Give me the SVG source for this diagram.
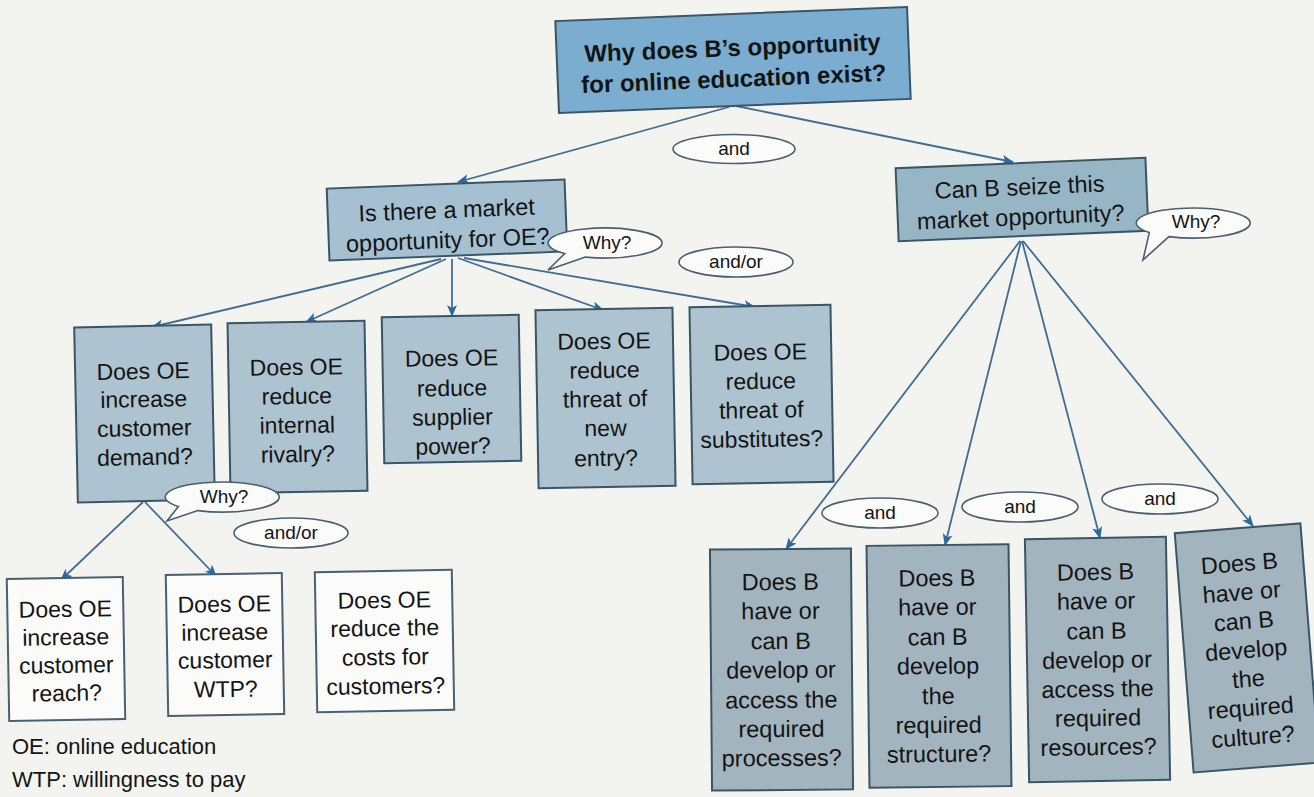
<svg xmlns="http://www.w3.org/2000/svg" width="1314" height="797" viewBox="0 0 1314 797">
  <defs>
    <marker id="arrow" viewBox="0 0 12 10" refX="11" refY="5" markerWidth="12" markerHeight="10" markerUnits="userSpaceOnUse" orient="auto">
      <path d="M0,0 L12,5 L0,10 L3,5 Z" fill="#2b69a3"/>
    </marker>
    <style>
      .bg { fill: #f3f3f0; }
      .box { stroke: #3a5566; stroke-width: 2; }
      .root { fill: #7aadcf; }
      .mid { fill: #a5c1d1; }
      .seize { fill: #97b6c5; }
      .row { fill: #adc3cf; }
      .cap { fill: #a2b5bf; }
      .plain { fill: #fbfbfa; stroke: #4a6070; stroke-width: 2; }
      .bubble { fill: #fbfbfa; stroke: #4a6070; stroke-width: 1.6; }
      .link { fill: none; stroke: #406d92; stroke-width: 1.8; marker-end: url(#arrow); }
      text { font-family: "Liberation Sans", Arial, sans-serif; fill: #141414; text-anchor: middle; }
      .t-root { font-size: 24px; font-weight: bold; }
      .t-mid { font-size: 23.5px; }
      .t-box { font-size: 23px; }
      .t-cap { font-size: 23.5px; }
      .t-tag { font-size: 19px; }
      .t-legend { font-size: 22px; text-anchor: start; }
    </style>
  </defs>

  <rect class="bg" x="0" y="0" width="1314" height="797"/>

  <!-- connectors -->
  <g id="connectors">
    <path class="link" d="M729,107 L458,182"/>
    <path class="link" d="M736,106 L1013,162"/>
    <path class="link" d="M441,259 L152,327"/>
    <path class="link" d="M446,259 L306,322"/>
    <path class="link" d="M452,259 L452,316"/>
    <path class="link" d="M458,258 L603,310"/>
    <path class="link" d="M464,258 L755,307"/>
    <path class="link" d="M1020,241 L786,549"/>
    <path class="link" d="M1021,241 L945,545"/>
    <path class="link" d="M1022,241 L1100,538"/>
    <path class="link" d="M1023,241 L1253,526"/>
    <path class="link" d="M143,502 L61,580"/>
    <path class="link" d="M145,502 L216,576"/>
  </g>

  <!-- root question -->
  <g id="root" transform="rotate(-2.3 733 60)">
    <rect class="box root" x="557" y="14" width="352" height="92"/>
    <text class="t-root" x="733" y="56">Why does B’s opportunity</text>
    <text class="t-root" x="733" y="87">for online education exist?</text>
  </g>

  <!-- market opportunity branch -->
  <g id="market" transform="rotate(-2.2 447 220)">
    <rect class="box mid" x="328" y="184" width="238" height="72"/>
    <text class="t-mid" x="447" y="218">Is there a market</text>
    <text class="t-mid" x="447" y="248">opportunity for OE?</text>
  </g>

  <g id="seize" transform="rotate(-2.4 1022 199)">
    <rect class="box seize" x="897" y="163" width="250" height="73"/>
    <text class="t-mid" x="1020" y="195">Can B seize this</text>
    <text class="t-mid" x="1020" y="225">market opportunity?</text>
  </g>

  <!-- five forces row -->
  <g id="demand" transform="rotate(-1.2 145 413)">
    <rect class="box row" x="76" y="326" width="137" height="175"/>
    <text class="t-box" x="144" y="379">Does OE</text>
    <text class="t-box" x="144" y="407">increase</text>
    <text class="t-box" x="144" y="436">customer</text>
    <text class="t-box" x="144" y="465">demand?</text>
  </g>

  <g id="rivalry" transform="rotate(-1 297 407)">
    <rect class="box row" x="229" y="322" width="137" height="170"/>
    <text class="t-box" x="297" y="375">Does OE</text>
    <text class="t-box" x="297" y="404">reduce</text>
    <text class="t-box" x="297" y="433">internal</text>
    <text class="t-box" x="297" y="462">rivalry?</text>
  </g>

  <g id="supplier" transform="rotate(-1 452 389)">
    <rect class="box row" x="383" y="316" width="137" height="146"/>
    <text class="t-box" x="452" y="366">Does OE</text>
    <text class="t-box" x="452" y="396">reduce</text>
    <text class="t-box" x="452" y="425">supplier</text>
    <text class="t-box" x="452" y="454">power?</text>
  </g>

  <g id="entry" transform="rotate(-1 605 398)">
    <rect class="box row" x="537" y="309" width="137" height="178"/>
    <text class="t-box" x="605" y="349">Does OE</text>
    <text class="t-box" x="605" y="378">reduce</text>
    <text class="t-box" x="605" y="407">threat of</text>
    <text class="t-box" x="605" y="436">new</text>
    <text class="t-box" x="605" y="466">entry?</text>
  </g>

  <g id="substitutes" transform="rotate(-1 761 394)">
    <rect class="box row" x="691" y="306" width="141" height="177"/>
    <text class="t-box" x="761" y="360">Does OE</text>
    <text class="t-box" x="761" y="389">reduce</text>
    <text class="t-box" x="761" y="418">threat of</text>
    <text class="t-box" x="761" y="447">substitutes?</text>
  </g>

  <!-- demand drivers -->
  <g id="reach" transform="rotate(-1 66 649)">
    <rect class="plain" x="8" y="578" width="116" height="142"/>
    <text class="t-box" x="66" y="617">Does OE</text>
    <text class="t-box" x="66" y="645">increase</text>
    <text class="t-box" x="66" y="673">customer</text>
    <text class="t-box" x="66" y="701">reach?</text>
  </g>

  <g id="wtp" transform="rotate(-1 225 645)">
    <rect class="plain" x="167" y="574" width="116" height="141"/>
    <text class="t-box" x="225" y="612">Does OE</text>
    <text class="t-box" x="225" y="640">increase</text>
    <text class="t-box" x="225" y="668">customer</text>
    <text class="t-box" x="225" y="697">WTP?</text>
  </g>

  <g id="costs" transform="rotate(-1 385 641)">
    <rect class="plain" x="316" y="571" width="137" height="140"/>
    <text class="t-box" x="385" y="608">Does OE</text>
    <text class="t-box" x="385" y="636">reduce the</text>
    <text class="t-box" x="385" y="665">costs for</text>
    <text class="t-box" x="385" y="694">customers?</text>
  </g>

  <!-- capability boxes -->
  <g id="processes" transform="rotate(-0.5 781 669)">
    <rect class="box cap" x="711" y="549" width="141" height="241"/>
    <text class="t-cap" x="781" y="590">Does B</text>
    <text class="t-cap" x="781" y="619">have or</text>
    <text class="t-cap" x="781" y="649">can B</text>
    <text class="t-cap" x="781" y="678">develop or</text>
    <text class="t-cap" x="781" y="708">access the</text>
    <text class="t-cap" x="781" y="737">required</text>
    <text class="t-cap" x="781" y="766">processes?</text>
  </g>

  <g id="structure" transform="rotate(-0.7 939 666)">
    <rect class="box cap" x="868" y="545" width="142" height="242"/>
    <text class="t-cap" x="938" y="586">Does B</text>
    <text class="t-cap" x="938" y="615">have or</text>
    <text class="t-cap" x="938" y="645">can B</text>
    <text class="t-cap" x="938" y="674">develop</text>
    <text class="t-cap" x="938" y="704">the</text>
    <text class="t-cap" x="938" y="733">required</text>
    <text class="t-cap" x="938" y="762">structure?</text>
  </g>

  <g id="resources" transform="rotate(-1 1097 659)">
    <rect class="box cap" x="1027" y="538" width="141" height="243"/>
    <text class="t-cap" x="1097" y="580">Does B</text>
    <text class="t-cap" x="1097" y="609">have or</text>
    <text class="t-cap" x="1097" y="639">can B</text>
    <text class="t-cap" x="1097" y="668">develop or</text>
    <text class="t-cap" x="1097" y="697">access the</text>
    <text class="t-cap" x="1097" y="726">required</text>
    <text class="t-cap" x="1097" y="755">resources?</text>
  </g>

  <g id="culture" transform="rotate(-4.5 1246 648)">
    <rect class="box cap" x="1184" y="528" width="126" height="240"/>
    <text class="t-cap" x="1246" y="571">Does B</text>
    <text class="t-cap" x="1246" y="600">have or</text>
    <text class="t-cap" x="1246" y="629">can B</text>
    <text class="t-cap" x="1246" y="658">develop</text>
    <text class="t-cap" x="1246" y="687">the</text>
    <text class="t-cap" x="1246" y="716">required</text>
    <text class="t-cap" x="1246" y="745">culture?</text>
  </g>

  <!-- connector labels, drawn over the boxes they touch -->
  <g id="labels">
    <ellipse class="bubble" cx="734" cy="149" rx="61" ry="14.5"/>
    <text class="t-tag" x="734" y="155">and</text>

    <path class="bubble" d="M585.5,257.1 L548,270 L564.7,253.6 A57,15 0 1 1 585.5,257.1 Z"/>
    <text class="t-tag" x="607" y="249">Why?</text>

    <ellipse class="bubble" cx="736" cy="262" rx="57" ry="15"/>
    <text class="t-tag" x="736" y="268">and/or</text>

    <path class="bubble" d="M1168.9,236.6 L1143,260 L1149.3,232.6 A57,15 0 1 1 1168.9,236.6 Z"/>
    <text class="t-tag" x="1196" y="228">Why?</text>

    <path class="bubble" d="M197.9,510.6 L167,521 L178.3,506.6 A57,15 0 1 1 197.9,510.6 Z"/>
    <text class="t-tag" x="224" y="503">Why?</text>

    <ellipse class="bubble" cx="291" cy="533" rx="57" ry="15"/>
    <text class="t-tag" x="291" y="539">and/or</text>

    <ellipse class="bubble" cx="880" cy="513" rx="58" ry="15"/>
    <text class="t-tag" x="880" y="519">and</text>
    <ellipse class="bubble" cx="1020" cy="507" rx="58" ry="15"/>
    <text class="t-tag" x="1020" y="513">and</text>
    <ellipse class="bubble" cx="1160" cy="499" rx="58" ry="15"/>
    <text class="t-tag" x="1160" y="505">and</text>
  </g>

  <!-- abbreviations -->
  <g id="legend">
    <text class="t-legend" x="12" y="754">OE: online education</text>
    <text class="t-legend" x="12" y="787">WTP: willingness to pay</text>
  </g>
</svg>
